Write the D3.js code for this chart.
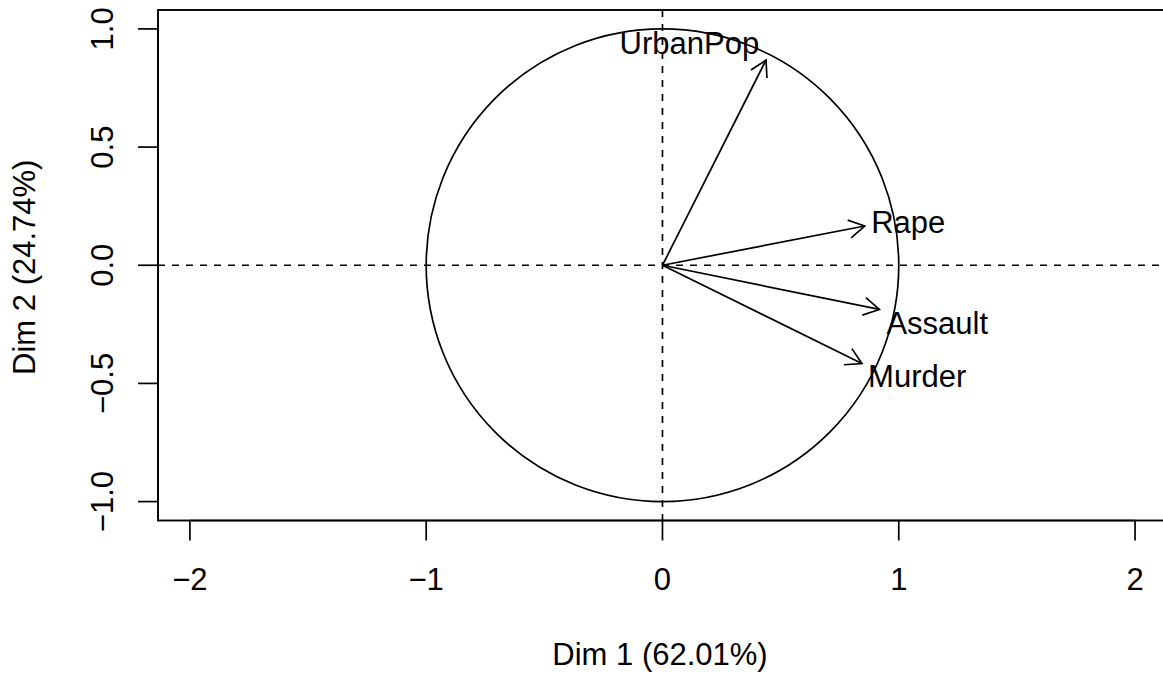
<!DOCTYPE html>
<html>
<head>
<meta charset="utf-8">
<script src="https://cdn.jsdelivr.net/npm/d3@7"></script>
<style>
  html, body { margin: 0; padding: 0; background: #fff; }
  svg { display: block; }
  text { font-family: "Liberation Sans", Arial, Helvetica, sans-serif; fill: #000; }
</style>
</head>
<body>
<svg id="chart" width="1163" height="675"></svg>
<script>
// ---- data ----
const variables = ["Murder", "Assault", "UrbanPop", "Rape"];
const dim1 = [0.844, 0.918, 0.438, 0.856];
const dim2 = [-0.416, -0.187, 0.868, 0.166];
// label anchor positions (data units), as placed in the reference
const labelDim1 = [1.078, 1.163, 0.114, 1.040];
const labelDim2 = [-0.471, -0.247, 0.941, 0.182];
const xTicks = [-2, -1, 0, 1, 2];
const yTicks = [-1.0, -0.5, 0.0, 0.5, 1.0];
const xTitle = "Dim 1 (62.01%)";
const yTitle = "Dim 2 (24.74%)";
const xDomain = [-2.135, 2.131];
const yDomain = [-1.080, 1.080];

// ---- layout ----
const svg = d3.select("#chart");
const plot = { left: 158, right: 1166, top: 10, bottom: 520.5 };
const x = d3.scaleLinear().domain(xDomain).range([plot.left, plot.right]);
const y = d3.scaleLinear().domain(yDomain).range([plot.bottom, plot.top]);
const FS = 31;
const SW = 1.7;

// box
svg.append("rect")
  .attr("x", plot.left).attr("y", plot.top)
  .attr("width", plot.right - plot.left).attr("height", plot.bottom - plot.top)
  .attr("fill", "none").attr("stroke", "#000").attr("stroke-width", 1.9);

// x axis (R style: ticks below box, labels)
const xAxis = svg.append("g").attr("transform", `translate(0,${plot.bottom})`);
xAxis.append("line")
  .attr("x1", x(xTicks[0])).attr("x2", x(xTicks[xTicks.length - 1]))
  .attr("stroke", "#000").attr("stroke-width", SW);
xAxis.selectAll("line.tick").data(xTicks).join("line").attr("class", "tick")
  .attr("x1", d => x(d)).attr("x2", d => x(d)).attr("y1", 0).attr("y2", 20)
  .attr("stroke", "#000").attr("stroke-width", SW);
xAxis.selectAll("text").data(xTicks).join("text")
  .attr("x", d => x(d)).attr("y", 69.5)
  .attr("text-anchor", "middle").attr("font-size", FS)
  .text(d => d < 0 ? "\u2212" + Math.abs(d) : String(d));

// y axis
const yAxis = svg.append("g").attr("transform", `translate(${plot.left},0)`);
yAxis.append("line")
  .attr("y1", y(yTicks[0])).attr("y2", y(yTicks[yTicks.length - 1]))
  .attr("stroke", "#000").attr("stroke-width", SW);
yAxis.selectAll("line.tick").data(yTicks).join("line").attr("class", "tick")
  .attr("y1", d => y(d)).attr("y2", d => y(d)).attr("x1", 0).attr("x2", -20)
  .attr("stroke", "#000").attr("stroke-width", SW);
yAxis.selectAll("text").data(yTicks).join("text")
  .attr("transform", d => `translate(-45,${y(d)}) rotate(-90)`)
  .attr("text-anchor", "middle").attr("font-size", FS)
  .text(d => (d < 0 ? "\u2212" : "") + Math.abs(d).toFixed(1));

// axis titles
svg.append("text")
  .attr("x", (plot.left + plot.right) / 2 - 2).attr("y", 665)
  .attr("text-anchor", "middle").attr("font-size", FS).text(xTitle);
svg.append("text")
  .attr("transform", `translate(35,${(plot.top + plot.bottom) / 2 + 2}) rotate(-90)`)
  .attr("text-anchor", "middle").attr("font-size", FS).text(yTitle);

// clip for plot content
svg.append("clipPath").attr("id", "clip").append("rect")
  .attr("x", plot.left).attr("y", plot.top)
  .attr("width", plot.right - plot.left).attr("height", plot.bottom - plot.top);
const g = svg.append("g").attr("clip-path", "url(#clip)");

// dashed reference lines
g.append("line")
  .attr("x1", plot.left).attr("x2", plot.right).attr("y1", y(0)).attr("y2", y(0))
  .attr("stroke", "#000").attr("stroke-width", SW).attr("stroke-dasharray", "7,7");
g.append("line")
  .attr("y1", plot.top).attr("y2", plot.bottom).attr("x1", x(0)).attr("x2", x(0))
  .attr("stroke", "#000").attr("stroke-width", SW).attr("stroke-dasharray", "7,7");

// unit circle
g.append("ellipse")
  .attr("cx", x(0)).attr("cy", y(0))
  .attr("rx", x(1) - x(0)).attr("ry", y(0) - y(1))
  .attr("fill", "none").attr("stroke", "#000").attr("stroke-width", SW);

// arrows
const headLen = 18, headAng = Math.PI / 6;
const rows = variables.map((v, i) => ({ v, d1: dim1[i], d2: dim2[i], l1: labelDim1[i], l2: labelDim2[i] }));
const arrows = g.selectAll("g.arrow").data(rows).join("g").attr("class", "arrow");
arrows.append("line")
  .attr("x1", x(0)).attr("y1", y(0))
  .attr("x2", d => x(d.d1)).attr("y2", d => y(d.d2))
  .attr("stroke", "#000").attr("stroke-width", SW);
arrows.append("path")
  .attr("d", d => {
    const x1 = x(d.d1), y1 = y(d.d2);
    const a = Math.atan2(y1 - y(0), x1 - x(0));
    const p1 = [x1 - headLen * Math.cos(a - headAng), y1 - headLen * Math.sin(a - headAng)];
    const p2 = [x1 - headLen * Math.cos(a + headAng), y1 - headLen * Math.sin(a + headAng)];
    return `M${p1[0]},${p1[1]}L${x1},${y1}L${p2[0]},${p2[1]}`;
  })
  .attr("fill", "none").attr("stroke", "#000").attr("stroke-width", SW);

// labels
svg.selectAll("text.lab").data(rows).join("text").attr("class", "lab")
  .attr("x", d => x(d.l1)).attr("y", d => y(d.l2))
  .attr("dy", "0.35em")
  .attr("text-anchor", "middle").attr("font-size", FS)
  .text(d => d.v);
</script>
</body>
</html>
